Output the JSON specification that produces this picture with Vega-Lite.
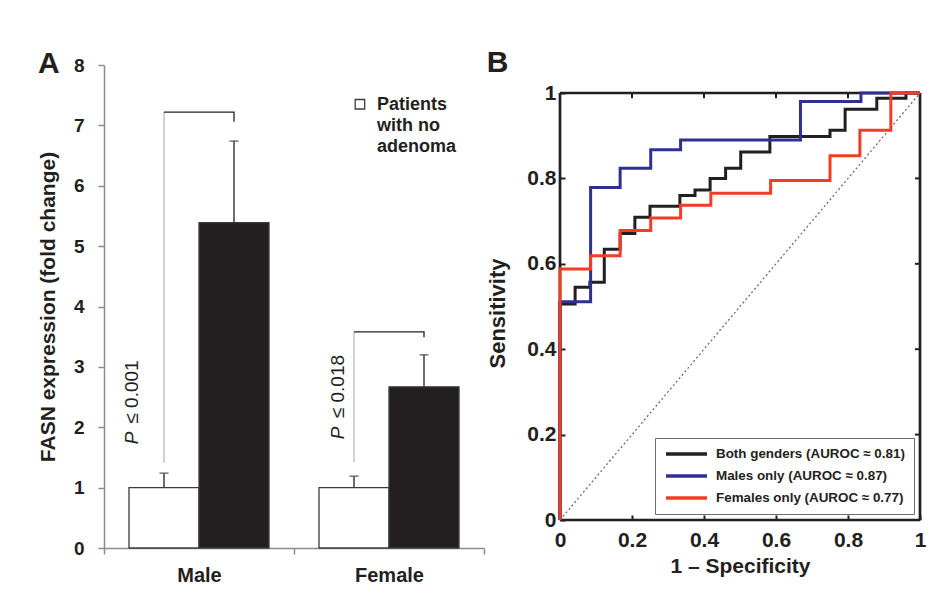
{
  "$schema": "https://vega.github.io/schema/vega-lite/v6.json",
  "background": "white",
  "padding": {"left": 37, "top": 47, "right": 10, "bottom": 10},
  "spacing": 1,
  "resolve": {"legend": {"color": "independent", "fill": "independent"}, "scale": {"color": "independent", "fill": "independent"}},
  "config": {
    "font": "Liberation Sans",
    "view": {"stroke": null},
    "text": {"font": "Liberation Sans", "color": "#231f20"},
    "axis": {"grid": false, "labelFont": "Liberation Sans", "titleFont": "Liberation Sans", "labelColor": "#231f20", "titleColor": "#231f20", "labelFontWeight": "bold", "titleFontWeight": "bold"},
    "legend": {"labelFont": "Liberation Sans"},
    "title": {"font": "Liberation Sans", "color": "#231f20"}
  },
  "datasets": {
    "bars": [
      {"sex": "Male", "group": "No adenoma", "value": 1.0, "upper": 1.24},
      {"sex": "Male", "group": "Adenoma", "value": 5.39, "upper": 6.74},
      {"sex": "Female", "group": "No adenoma", "value": 1.0, "upper": 1.19},
      {"sex": "Female", "group": "Adenoma", "value": 2.67, "upper": 3.2}
    ],
    "stems": [
      {"sex": "Male", "group": "No adenoma", "low": 1.41, "high": 7.22},
      {"sex": "Female", "group": "No adenoma", "low": 1.42, "high": 3.58}
    ],
    "brackets": [
      {"sex": "Male", "group": "No adenoma", "v": 7.22, "i": 1},
      {"sex": "Male", "group": "Adenoma", "v": 7.22, "i": 2},
      {"sex": "Male", "group": "Adenoma", "v": 7.06, "i": 3},
      {"sex": "Female", "group": "No adenoma", "v": 3.58, "i": 1},
      {"sex": "Female", "group": "Adenoma", "v": 3.58, "i": 2},
      {"sex": "Female", "group": "Adenoma", "v": 3.49, "i": 3}
    ],
    "pvals": [
      {"sex": "Male", "p": "P", "p_at": 1.72, "rest": "≤ 0.001", "rest_at": 2.06},
      {"sex": "Female", "p": "P", "p_at": 1.8, "rest": "≤ 0.018", "rest_at": 2.15}
    ],
    "legendA": [
      {"sex": "Female", "mark_at": 7.35, "text_at": 7.49, "label": "Patients\nwith no\nadenoma"}
    ],
    "diag": [
      {"fpr": 0, "tpr": 0},
      {"fpr": 1, "tpr": 1}
    ],
    "one": [{}],
    "ticksTop": [{"fpr": 0.2}, {"fpr": 0.4}, {"fpr": 0.6}, {"fpr": 0.8}],
    "ticksRight": [{"tpr": 0.2}, {"tpr": 0.4}, {"tpr": 0.6}, {"tpr": 0.8}],
    "roc": [
      {"series": "Both genders (AUROC ≈ 0.81)", "i": 0, "fpr": 0, "tpr": 0},
      {"series": "Both genders (AUROC ≈ 0.81)", "i": 1, "fpr": 0, "tpr": 0.506},
      {"series": "Both genders (AUROC ≈ 0.81)", "i": 2, "fpr": 0.042, "tpr": 0.545},
      {"series": "Both genders (AUROC ≈ 0.81)", "i": 3, "fpr": 0.083, "tpr": 0.557},
      {"series": "Both genders (AUROC ≈ 0.81)", "i": 4, "fpr": 0.123, "tpr": 0.634},
      {"series": "Both genders (AUROC ≈ 0.81)", "i": 5, "fpr": 0.167, "tpr": 0.671},
      {"series": "Both genders (AUROC ≈ 0.81)", "i": 6, "fpr": 0.208, "tpr": 0.709},
      {"series": "Both genders (AUROC ≈ 0.81)", "i": 7, "fpr": 0.25, "tpr": 0.735},
      {"series": "Both genders (AUROC ≈ 0.81)", "i": 8, "fpr": 0.333, "tpr": 0.76},
      {"series": "Both genders (AUROC ≈ 0.81)", "i": 9, "fpr": 0.375, "tpr": 0.773},
      {"series": "Both genders (AUROC ≈ 0.81)", "i": 10, "fpr": 0.417, "tpr": 0.8},
      {"series": "Both genders (AUROC ≈ 0.81)", "i": 11, "fpr": 0.46, "tpr": 0.824},
      {"series": "Both genders (AUROC ≈ 0.81)", "i": 12, "fpr": 0.502, "tpr": 0.862},
      {"series": "Both genders (AUROC ≈ 0.81)", "i": 13, "fpr": 0.583, "tpr": 0.898},
      {"series": "Both genders (AUROC ≈ 0.81)", "i": 14, "fpr": 0.75, "tpr": 0.913},
      {"series": "Both genders (AUROC ≈ 0.81)", "i": 15, "fpr": 0.792, "tpr": 0.962},
      {"series": "Both genders (AUROC ≈ 0.81)", "i": 16, "fpr": 0.88, "tpr": 0.988},
      {"series": "Both genders (AUROC ≈ 0.81)", "i": 17, "fpr": 0.961, "tpr": 1.0},
      {"series": "Both genders (AUROC ≈ 0.81)", "i": 18, "fpr": 1, "tpr": 1},
      {"series": "Males only (AUROC ≈ 0.87)", "i": 0, "fpr": 0, "tpr": 0},
      {"series": "Males only (AUROC ≈ 0.87)", "i": 1, "fpr": 0, "tpr": 0.511},
      {"series": "Males only (AUROC ≈ 0.87)", "i": 2, "fpr": 0.085, "tpr": 0.779},
      {"series": "Males only (AUROC ≈ 0.87)", "i": 3, "fpr": 0.167, "tpr": 0.824},
      {"series": "Males only (AUROC ≈ 0.87)", "i": 4, "fpr": 0.252, "tpr": 0.867},
      {"series": "Males only (AUROC ≈ 0.87)", "i": 5, "fpr": 0.335, "tpr": 0.89},
      {"series": "Males only (AUROC ≈ 0.87)", "i": 6, "fpr": 0.668, "tpr": 0.98},
      {"series": "Males only (AUROC ≈ 0.87)", "i": 7, "fpr": 0.836, "tpr": 1.0},
      {"series": "Males only (AUROC ≈ 0.87)", "i": 8, "fpr": 1, "tpr": 1},
      {"series": "Females only (AUROC ≈ 0.77)", "i": 0, "fpr": 0, "tpr": 0},
      {"series": "Females only (AUROC ≈ 0.77)", "i": 1, "fpr": 0, "tpr": 0.588},
      {"series": "Females only (AUROC ≈ 0.77)", "i": 2, "fpr": 0.085, "tpr": 0.619},
      {"series": "Females only (AUROC ≈ 0.77)", "i": 3, "fpr": 0.167, "tpr": 0.678},
      {"series": "Females only (AUROC ≈ 0.77)", "i": 4, "fpr": 0.252, "tpr": 0.707},
      {"series": "Females only (AUROC ≈ 0.77)", "i": 5, "fpr": 0.335, "tpr": 0.737},
      {"series": "Females only (AUROC ≈ 0.77)", "i": 6, "fpr": 0.419, "tpr": 0.765},
      {"series": "Females only (AUROC ≈ 0.77)", "i": 7, "fpr": 0.585, "tpr": 0.795},
      {"series": "Females only (AUROC ≈ 0.77)", "i": 8, "fpr": 0.75, "tpr": 0.853},
      {"series": "Females only (AUROC ≈ 0.77)", "i": 9, "fpr": 0.833, "tpr": 0.913},
      {"series": "Females only (AUROC ≈ 0.77)", "i": 10, "fpr": 0.919, "tpr": 1.0},
      {"series": "Females only (AUROC ≈ 0.77)", "i": 11, "fpr": 1, "tpr": 1}
    ]
  },
  "hconcat": [
    {
      "width": 380,
      "height": 483,
      "title": {"text": "A", "anchor": "start", "frame": "bounds", "fontSize": 30, "fontWeight": "bold", "baseline": "alphabetic", "offset": -46.5},
      "layer": [
        {
          "data": {"name": "bars"},
          "mark": {"type": "bar", "stroke": "#3c3c3c", "strokeWidth": 1.3},
          "encoding": {
            "x": {"field": "sex", "type": "nominal", "scale": {"domain": ["Male", "Female"], "paddingInner": 0, "paddingOuter": 0},
              "axis": {"title": null, "labelAngle": 0, "labelFontSize": 20, "labelPadding": 11, "tickBand": "extent", "tickSize": 6, "tickWidth": 1.5, "tickColor": "#8c8c8c", "domainColor": "#8c8c8c", "domainWidth": 1.5}},
            "xOffset": {"field": "group", "type": "nominal", "scale": {"domain": ["No adenoma", "Adenoma"], "paddingInner": 0, "paddingOuter": 0.357}},
            "y": {"field": "value", "type": "quantitative", "scale": {"domain": [0, 8], "nice": false},
              "axis": {"values": [0, 1, 2, 3, 4, 5, 6, 7, 8], "format": "d", "title": "FASN expression (fold change)", "titleFontSize": 21, "titlePadding": 14.5, "labelFontSize": 19, "labelPadding": 14, "tickSize": 6, "tickWidth": 1.5, "tickColor": "#8c8c8c", "domainColor": "#8c8c8c", "domainWidth": 1.5}},
            "fill": {"field": "group", "type": "nominal", "scale": {"domain": ["No adenoma", "Adenoma"], "range": ["white", "#231f20"]}, "legend": null}
          }
        },
        {
          "data": {"name": "bars"},
          "mark": {"type": "rule", "color": "#3c3c3c", "strokeWidth": 1.5},
          "encoding": {
            "x": {"field": "sex", "type": "nominal", "scale": {"domain": ["Male", "Female"]}},
            "xOffset": {"field": "group", "type": "nominal", "scale": {"domain": ["No adenoma", "Adenoma"]}},
            "y": {"field": "value", "type": "quantitative"},
            "y2": {"field": "upper"}
          }
        },
        {
          "data": {"name": "bars"},
          "mark": {"type": "tick", "color": "#3c3c3c", "thickness": 1.5, "size": 9, "orient": "horizontal"},
          "encoding": {
            "x": {"field": "sex", "type": "nominal", "scale": {"domain": ["Male", "Female"]}},
            "xOffset": {"field": "group", "type": "nominal", "scale": {"domain": ["No adenoma", "Adenoma"]}},
            "y": {"field": "upper", "type": "quantitative"}
          }
        },
        {
          "data": {"name": "stems"},
          "mark": {"type": "rule", "color": "#b4b4b4", "strokeWidth": 1.2},
          "encoding": {
            "x": {"field": "sex", "type": "nominal", "scale": {"domain": ["Male", "Female"]}},
            "xOffset": {"field": "group", "type": "nominal", "scale": {"domain": ["No adenoma", "Adenoma"]}},
            "y": {"field": "low", "type": "quantitative"},
            "y2": {"field": "high"}
          }
        },
        {
          "data": {"name": "brackets"},
          "mark": {"type": "line", "color": "#231f20", "strokeWidth": 1.3},
          "encoding": {
            "x": {"field": "sex", "type": "nominal", "scale": {"domain": ["Male", "Female"]}},
            "xOffset": {"field": "group", "type": "nominal", "scale": {"domain": ["No adenoma", "Adenoma"]}},
            "y": {"field": "v", "type": "quantitative"},
            "detail": {"field": "sex"},
            "order": {"field": "i"}
          }
        },
        {
          "data": {"name": "pvals"},
          "transform": [{"filter": "datum.sex === 'Male'"}],
          "mark": {"type": "text", "angle": 270, "align": "left", "baseline": "middle", "fontSize": 19, "fontStyle": "italic"},
          "encoding": {
            "x": {"field": "sex", "type": "nominal", "bandPosition": 0.147, "scale": {"domain": ["Male", "Female"]}},
            "y": {"field": "p_at", "type": "quantitative"},
            "text": {"field": "p"}
          }
        },
        {
          "data": {"name": "pvals"},
          "transform": [{"filter": "datum.sex === 'Male'"}],
          "mark": {"type": "text", "angle": 270, "align": "left", "baseline": "middle", "fontSize": 19},
          "encoding": {
            "x": {"field": "sex", "type": "nominal", "bandPosition": 0.147, "scale": {"domain": ["Male", "Female"]}},
            "y": {"field": "rest_at", "type": "quantitative"},
            "text": {"field": "rest"}
          }
        },
        {
          "data": {"name": "pvals"},
          "transform": [{"filter": "datum.sex === 'Female'"}],
          "mark": {"type": "text", "angle": 270, "align": "left", "baseline": "middle", "fontSize": 19, "fontStyle": "italic"},
          "encoding": {
            "x": {"field": "sex", "type": "nominal", "bandPosition": 0.232, "scale": {"domain": ["Male", "Female"]}},
            "y": {"field": "p_at", "type": "quantitative"},
            "text": {"field": "p"}
          }
        },
        {
          "data": {"name": "pvals"},
          "transform": [{"filter": "datum.sex === 'Female'"}],
          "mark": {"type": "text", "angle": 270, "align": "left", "baseline": "middle", "fontSize": 19},
          "encoding": {
            "x": {"field": "sex", "type": "nominal", "bandPosition": 0.232, "scale": {"domain": ["Male", "Female"]}},
            "y": {"field": "rest_at", "type": "quantitative"},
            "text": {"field": "rest"}
          }
        },
        {
          "data": {"name": "legendA"},
          "mark": {"type": "point", "shape": "square", "filled": true, "fill": "white", "stroke": "#3c3c3c", "strokeWidth": 1.3, "size": 90, "opacity": 1},
          "encoding": {
            "x": {"field": "sex", "type": "nominal", "bandPosition": 0.347, "scale": {"domain": ["Male", "Female"]}},
            "y": {"field": "mark_at", "type": "quantitative"}
          }
        },
        {
          "data": {"name": "legendA"},
          "mark": {"type": "text", "align": "left", "baseline": "top", "fontSize": 18, "fontWeight": "bold", "lineHeight": 21, "lineBreak": "\n"},
          "encoding": {
            "x": {"field": "sex", "type": "nominal", "bandPosition": 0.437, "scale": {"domain": ["Male", "Female"]}},
            "y": {"field": "text_at", "type": "quantitative"},
            "text": {"field": "label"}
          }
        }
      ]
    },
    {
      "width": 360,
      "height": 455,
      "title": {"text": "B", "anchor": "start", "frame": "bounds", "fontSize": 30, "fontWeight": "bold", "baseline": "alphabetic", "offset": -36.5},
      "layer": [
        {
          "data": {"name": "one"},
          "mark": {"type": "rule", "color": "#231f20", "strokeWidth": 2.7},
          "encoding": {"x": {"datum": 0}, "y": {"datum": 0}, "y2": {"datum": 1}}
        },
        {
          "data": {"name": "one"},
          "mark": {"type": "rule", "color": "#231f20", "strokeWidth": 2.7},
          "encoding": {"x": {"datum": 1}, "y": {"datum": 0}, "y2": {"datum": 1}}
        },
        {
          "data": {"name": "one"},
          "mark": {"type": "rule", "color": "#231f20", "strokeWidth": 2.7},
          "encoding": {"y": {"datum": 1}, "x": {"datum": 0}, "x2": {"datum": 1}}
        },
        {
          "data": {"name": "one"},
          "mark": {"type": "rule", "color": "#231f20", "strokeWidth": 2.7},
          "encoding": {"y": {"datum": 0}, "x": {"datum": 0}, "x2": {"datum": 1}}
        },
        {
          "data": {"name": "ticksTop"},
          "mark": {"type": "rule", "color": "#231f20", "strokeWidth": 2},
          "encoding": {"x": {"field": "fpr", "type": "quantitative"}, "y": {"datum": 1}, "y2": {"datum": 0.988}}
        },
        {
          "data": {"name": "ticksRight"},
          "mark": {"type": "rule", "color": "#231f20", "strokeWidth": 2},
          "encoding": {"y": {"field": "tpr", "type": "quantitative"}, "x": {"datum": 1}, "x2": {"datum": 0.986}}
        },
        {
          "data": {"name": "diag"},
          "mark": {"type": "line", "color": "#6d6d6d", "strokeDash": [2, 2.5], "strokeWidth": 1.3},
          "encoding": {
            "x": {"field": "fpr", "type": "quantitative"},
            "y": {"field": "tpr", "type": "quantitative"}
          }
        },
        {
          "data": {"name": "roc"},
          "mark": {"type": "line", "interpolate": "step-after", "strokeWidth": 3},
          "encoding": {
            "x": {"field": "fpr", "type": "quantitative", "scale": {"domain": [0, 1], "nice": false},
              "axis": {"orient": "bottom", "title": "1 – Specificity", "titleFontSize": 21, "titlePadding": 5, "values": [0, 0.2, 0.4, 0.6, 0.8, 1], "format": "~g", "labelFontSize": 21, "labelPadding": 14, "labelFlush": false, "labelOverlap": false, "tickSize": -5, "tickWidth": 2, "tickColor": "#231f20", "domain": false}},
            "y": {"field": "tpr", "type": "quantitative", "scale": {"domain": [0, 1.0656], "nice": false},
              "axis": {"orient": "left", "title": "Sensitivity", "titleFontSize": 22, "titlePadding": 17, "titleY": 248, "values": [0, 0.2, 0.4, 0.6, 0.8, 1], "format": "~g", "labelFontSize": 21, "labelPadding": 9, "labelFlush": false, "labelOverlap": false, "tickSize": -5, "tickWidth": 2, "tickColor": "#231f20", "domain": false}},
            "color": {"field": "series", "type": "nominal",
              "scale": {"domain": ["Both genders (AUROC ≈ 0.81)", "Males only (AUROC ≈ 0.87)", "Females only (AUROC ≈ 0.77)"], "range": ["#231f20", "#2e3192", "#ef3e23"]},
              "legend": {"title": null, "orient": "bottom-right", "offset": 6, "fillColor": "white", "strokeColor": "#6d6d6d", "padding": 9, "symbolType": "stroke", "symbolSize": 1681, "symbolStrokeWidth": 3.5, "clipHeight": 14, "rowPadding": 8, "labelFontSize": 13.4, "labelFontWeight": "bold", "labelColor": "#231f20", "labelOffset": 7, "labelLimit": 400}},
            "order": {"field": "i"}
          }
        }
      ]
    }
  ]
}
